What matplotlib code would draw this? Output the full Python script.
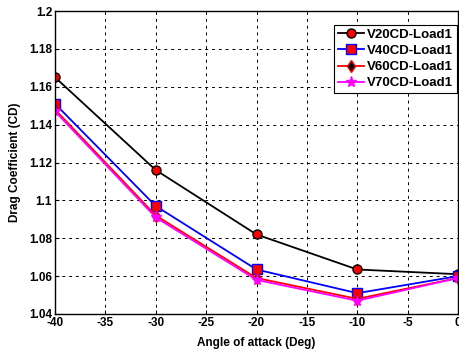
import matplotlib
matplotlib.use("Agg")
import matplotlib.pyplot as plt

angles = [-40, -30, -20, -10, 0]
v20 = [1.165, 1.116, 1.082, 1.0635, 1.061]
v40 = [1.151, 1.097, 1.0635, 1.051, 1.060]
v60 = [1.148, 1.092, 1.059, 1.048, 1.059]
v70 = [1.147, 1.091, 1.058, 1.047, 1.059]
labels = ["V20CD-Load1", "V40CD-Load1", "V60CD-Load1", "V70CD-Load1"]

plt.rcParams['font.family'] = ['Liberation Sans', 'DejaVu Sans']
plt.rcParams['font.weight'] = 'bold'

fig = plt.figure(figsize=(4.6, 3.53), dpi=100)
ax = fig.add_axes([0.1196, 0.1105, 0.8761, 0.8583])

ax.plot(angles, v20, color='black', lw=1.3, marker='o', ms=6.5, mfc='red', mec='black', label=labels[0])
ax.plot(angles, v40, color='blue', lw=1.3, marker='s', ms=6.5, mfc='red', mec='blue', label=labels[1])
ax.plot(angles, v60, color='red', lw=1.3, marker='d', ms=6.5, mfc='black', mec='red', label=labels[2])
ax.plot(angles, v70, color='magenta', lw=1.3, marker='*', ms=8, mfc='magenta', mec='magenta', label=labels[3])

ax.set_xlim(-40, 0)
ax.set_ylim(1.04, 1.2)
ax.set_xticks(range(-40, 1, 5))
ax.set_xticklabels([str(t) for t in range(-40, 1, 5)])
yt = [1.04, 1.06, 1.08, 1.1, 1.12, 1.14, 1.16, 1.18, 1.2]
ax.set_yticks(yt)
ax.set_yticklabels(["1.04", "1.06", "1.08", "1.1", "1.12", "1.14", "1.16", "1.18", "1.2"])
ax.grid(True, color='black', linestyle=(0, (3, 4)), lw=0.7)
ax.tick_params(direction='in', labelsize=8.5, length=3, pad=2)
for s in ax.spines.values():
    s.set_linewidth(1.0)

ax.set_xlabel("Angle of attack (Deg)", fontsize=8.5, fontweight='bold', labelpad=6)
ax.set_ylabel("Drag Coefficient (CD)", fontsize=8.5, fontweight='bold', labelpad=6)

leg = ax.legend(loc='upper right', bbox_to_anchor=(0.997, 0.955), fontsize=9.5, frameon=True,
                fancybox=False, edgecolor='black', framealpha=1, handlelength=2.0,
                borderpad=0.3, labelspacing=0.3, handletextpad=0.2, borderaxespad=0)
leg.get_frame().set_linewidth(0.8)

fig.savefig("out.png", dpi=100)
